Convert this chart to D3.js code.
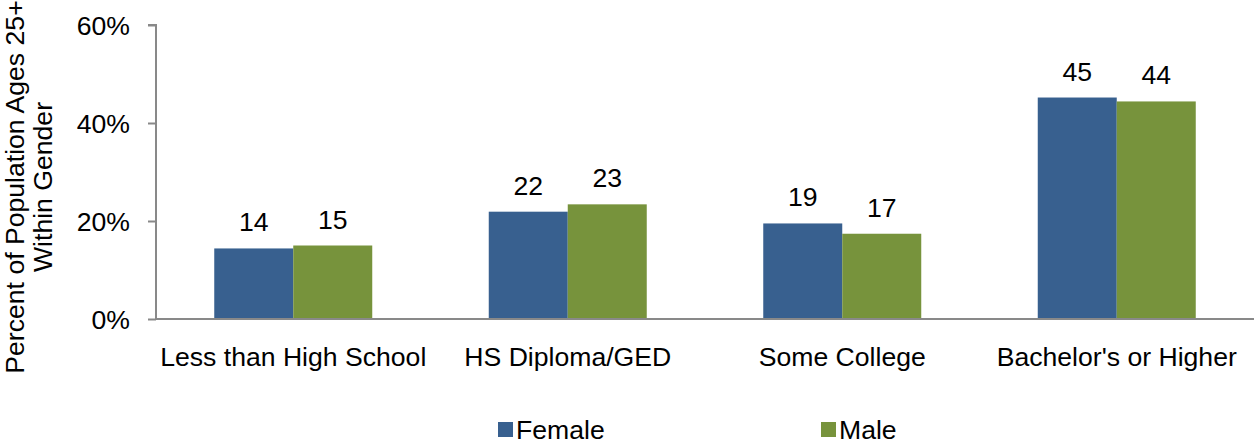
<!DOCTYPE html>
<html><head><meta charset="utf-8">
<script src="https://cdn.jsdelivr.net/npm/d3@7"></script>
<style>body{margin:0;background:#fff}svg{display:block}text{font-family:"Liberation Sans",Arial,Helvetica,sans-serif;fill:#000}</style>
</head><body><svg id="c" width="1254" height="445"></svg>
<script>
const categories = ["Less than High School", "HS Diploma/GED", "Some College", "Bachelor's or Higher"];
const seriesNames = ["Female", "Male"];
const female = [14.4, 21.9, 19.5, 45.2];
const male = [15.0, 23.4, 17.4, 44.4];
const femaleLabels = ["14", "22", "19", "45"];
const maleLabels = ["15", "23", "17", "44"];
const yTicks = [0, 20, 40, 60];
const colors = ["#38608F", "#77933C"];

const FS = 26.6;
const svg = d3.select("#c");
const x0 = 156, x1 = 1254, yTop = 25, yBot = 319;
const x = d3.scaleBand().domain(categories).range([x0, x1]);
const y = d3.scaleLinear().domain([0, 60]).range([yBot, yTop]);
const barW = 79;
const xs = d3.scaleBand().domain(seriesNames).range([-barW, barW]);

const data = [female, male];
const labels = [femaleLabels, maleLabels];

// bars
seriesNames.forEach((s, si) => {
  svg.append("g").selectAll("rect").data(categories).join("rect")
    .attr("x", c => x(c) + x.bandwidth() / 2 + xs(s))
    .attr("y", (c, i) => y(data[si][i]))
    .attr("width", xs.bandwidth())
    .attr("height", (c, i) => yBot - y(data[si][i]))
    .attr("fill", colors[si]);
  svg.append("g").selectAll("text").data(categories).join("text")
    .attr("x", c => x(c) + x.bandwidth() / 2 + xs(s) + xs.bandwidth() / 2)
    .attr("y", (c, i) => y(data[si][i]) - 17)
    .attr("text-anchor", "middle")
    .attr("font-size", FS)
    .text((c, i) => labels[si][i]);
});

// y axis
const yAxis = d3.axisLeft(y).tickValues(yTicks).tickFormat(d => d + "%").tickSize(8).tickPadding(18);
const gy = svg.append("g").attr("transform", `translate(${x0},0)`).call(yAxis);
gy.select(".domain").attr("stroke", "#898989").attr("stroke-width", 2).attr("d", `M-8,${yTop}H0V${yBot}`);
gy.selectAll(".tick line").attr("stroke", "#898989").attr("stroke-width", 2);
gy.selectAll(".tick text").attr("font-size", FS).attr("font-family", '"Liberation Sans",Arial,sans-serif').attr("fill", "#000").attr("dy", "0.35em");

// x axis
const xAxis = d3.axisBottom(x).tickSize(0).tickPadding(28);
const gx = svg.append("g").attr("transform", `translate(0,${yBot})`).call(xAxis);
gx.select(".domain").attr("stroke", "#898989").attr("stroke-width", 2).attr("d", `M${x0},0H${x1}`);
gx.selectAll(".tick text").attr("font-size", FS).attr("font-family", '"Liberation Sans",Arial,sans-serif').attr("fill", "#000");

// y title
const yt = svg.append("text").attr("transform", "translate(24,187) rotate(-90)").attr("text-anchor", "middle").attr("font-size", FS);
yt.append("tspan").attr("x", 0).attr("dy", 0).text("Percent of Population Ages 25+");
yt.append("tspan").attr("x", 0).attr("dy", 28).text("Within Gender");

// legend
const legX = [498, 821];
seriesNames.forEach((s, si) => {
  const g = svg.append("g").attr("transform", `translate(${legX[si]},422)`);
  g.append("rect").attr("x", 0).attr("y", 0).attr("width", 15).attr("height", 15).attr("fill", colors[si]);
  g.append("text").attr("x", 18).attr("y", 17).attr("font-size", FS).text(s);
});
</script></body></html>
